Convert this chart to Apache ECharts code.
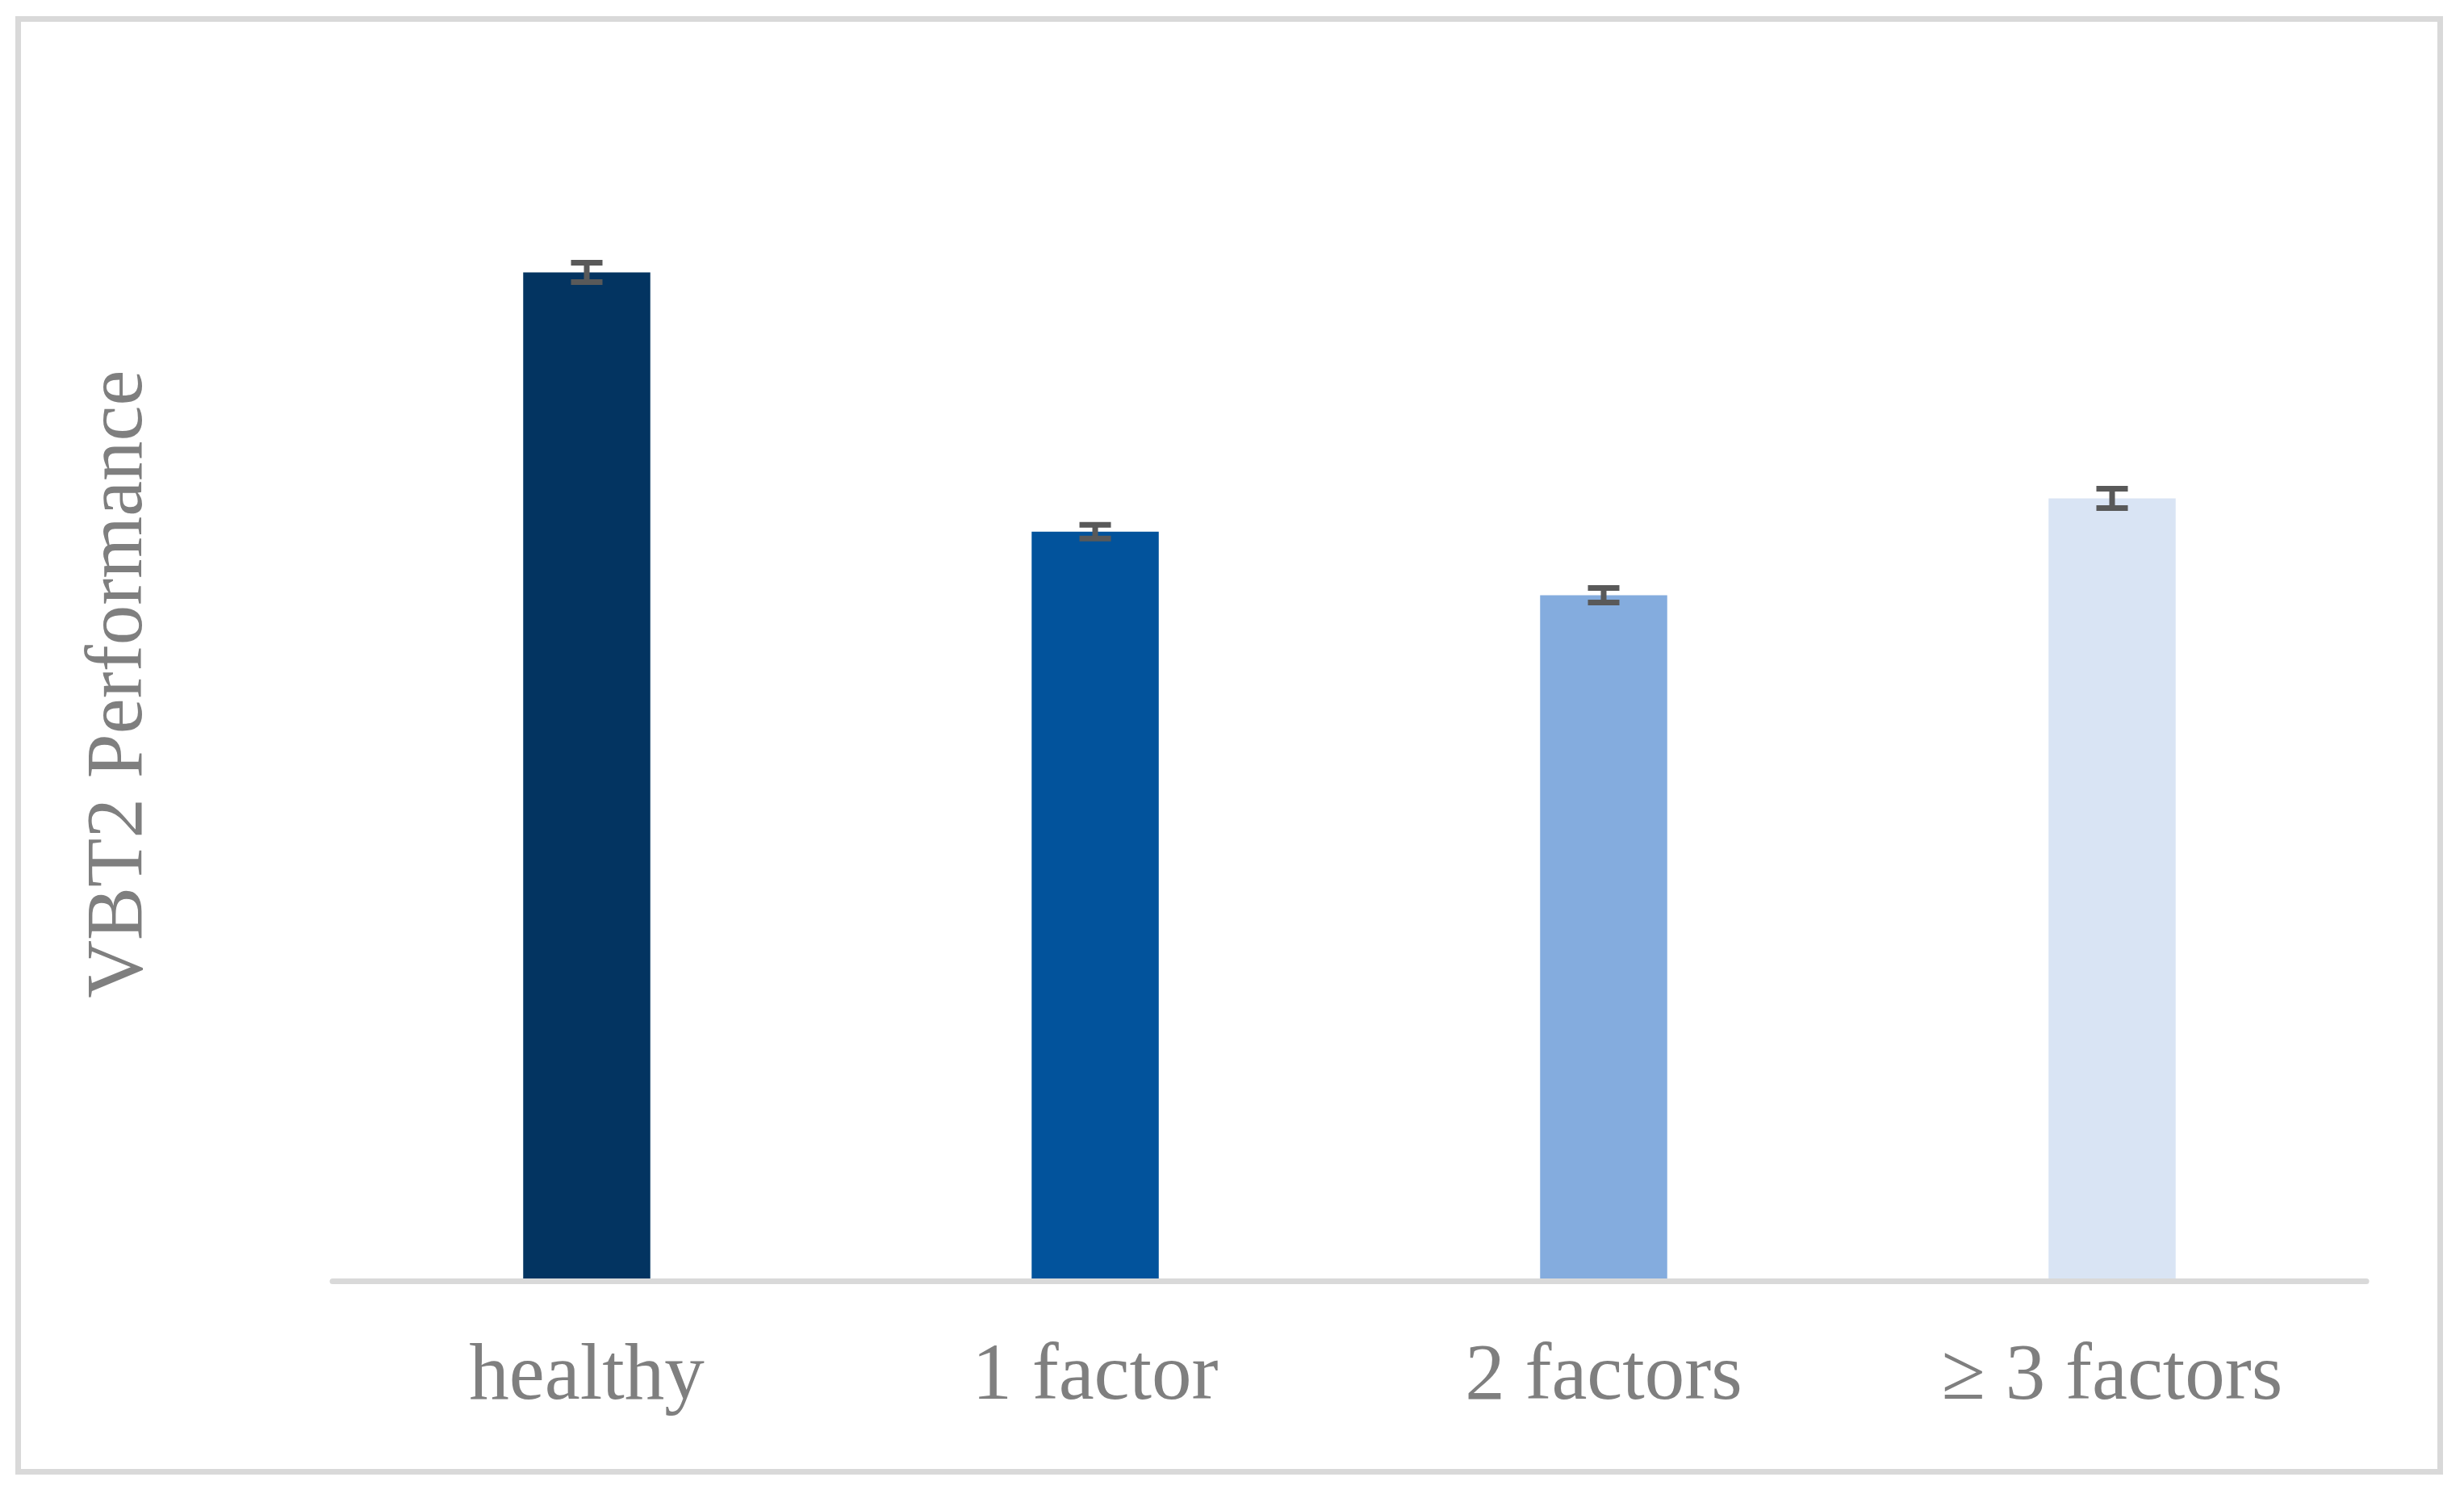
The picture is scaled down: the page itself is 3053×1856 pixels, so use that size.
<!DOCTYPE html>
<html>
<head>
<meta charset="utf-8">
<script src="https://cdn.jsdelivr.net/npm/echarts@6/dist/echarts.min.js"></script>
<style>
html,body{margin:0;padding:0;background:#fff;}
#chart{width:3053px;height:1856px;}
</style>
</head>
<body>
<div id="chart"></div>
<script>
var categories = ['healthy', '1 factor', '2 factors', '\u2265 3 factors'];
var values = [100.0, 74.3, 68.0, 77.6];
var errors = [0.96, 0.68, 0.72, 0.96];
var barColors = ['#033461', '#02539C', '#84ACDE', '#D9E4F4'];
var yAxisName = 'VBT2 Performance';

var chart = echarts.init(document.getElementById('chart'), null, {renderer: 'canvas'});

var barData = values.map(function (v, i) {
  return {value: v, itemStyle: {color: barColors[i]}};
});
var errData = values.map(function (v, i) {
  return [i, v, errors[i]];
});

var option = {
  animation: false,
  backgroundColor: '#ffffff',
  graphic: [{
    type: 'rect',
    shape: {x: 22.5, y: 23.5, width: 3001, height: 1800},
    style: {fill: 'none', stroke: '#d9d9d9', lineWidth: 7},
    z: -1
  }],
  grid: {left: 412, right: 121, top: 87.5, bottom: 268.5, containLabel: false},
  xAxis: {
    type: 'category',
    data: categories,
    z: 5,
    axisLine: {show: true, lineStyle: {color: '#d9d9d9', width: 7}},
    axisTick: {show: false},
    axisLabel: {
      color: '#7f7f7f',
      fontSize: 99,
      fontFamily: 'Liberation Serif',
      margin: 70
    },
    splitLine: {show: false}
  },
  yAxis: {
    type: 'value',
    min: 0,
    max: 120,
    name: yAxisName,
    nameLocation: 'middle',
    nameGap: 214,
    nameTextStyle: {color: '#7f7f7f', fontSize: 99, fontFamily: 'Liberation Serif', padding: [0, 20, 0, 0]},
    axisLine: {show: false},
    axisTick: {show: false},
    axisLabel: {show: false},
    splitLine: {show: false}
  },
  series: [{
    type: 'bar',
    data: barData,
    barWidth: '25%',
    z: 2
  }, {
    type: 'custom',
    data: errData,
    z: 10,
    renderItem: function (params, api) {
      var i = api.value(0);
      var v = api.value(1);
      var e = api.value(2);
      var hi = api.coord([i, v + e]);
      var lo = api.coord([i, v - e]);
      var hw = 19.5;
      var st = {stroke: '#595959', lineWidth: 7, fill: 'none'};
      return {
        type: 'group',
        children: [
          {type: 'line', shape: {x1: hi[0], y1: hi[1], x2: lo[0], y2: lo[1]}, style: st},
          {type: 'line', shape: {x1: hi[0] - hw, y1: hi[1], x2: hi[0] + hw, y2: hi[1]}, style: st},
          {type: 'line', shape: {x1: lo[0] - hw, y1: lo[1], x2: lo[0] + hw, y2: lo[1]}, style: st}
        ]
      };
    }
  }]
};
chart.setOption(option);
</script>
</body>
</html>
